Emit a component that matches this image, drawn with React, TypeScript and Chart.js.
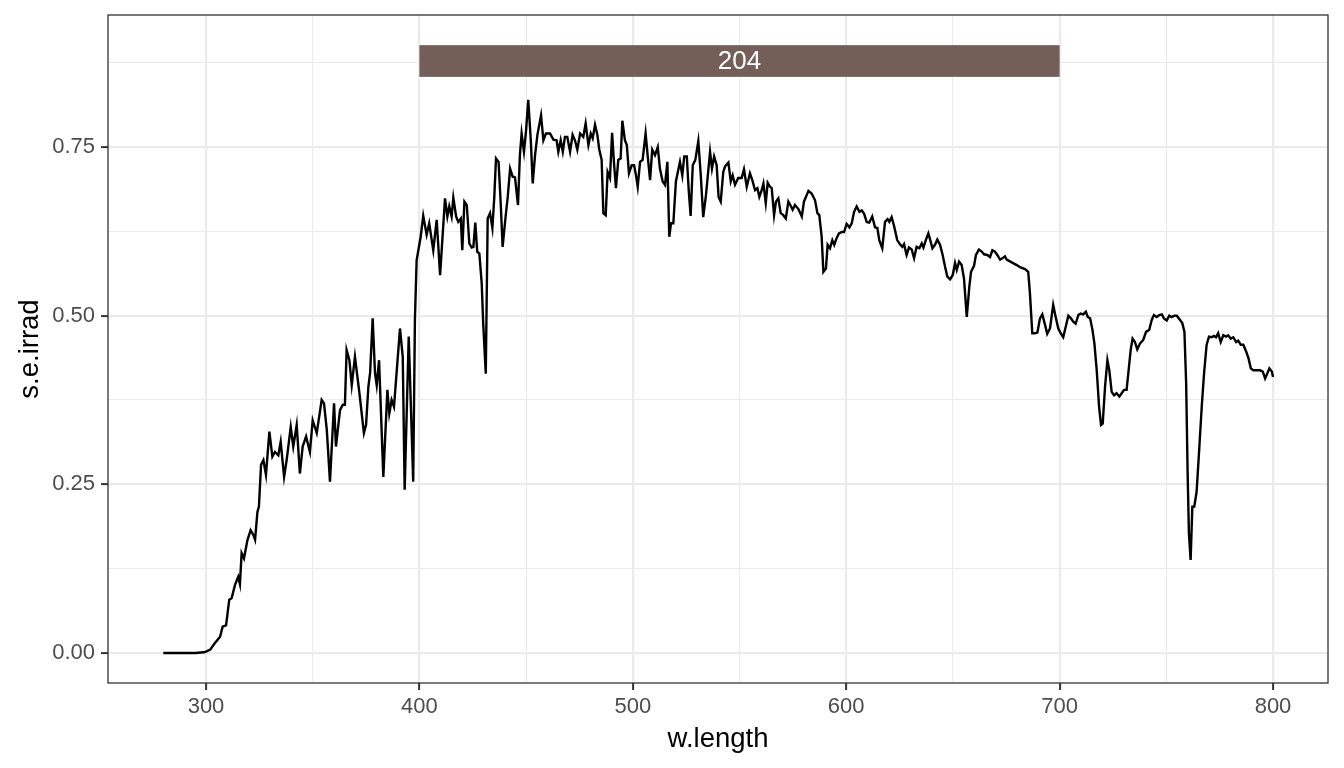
import React, { useEffect, useRef } from 'react';
import { Chart, registerables } from 'chart.js';

Chart.register(...registerables);

// wavelength (nm)
const wavelength = [
  280, 285, 290, 295, 299, 300, 302, 304, 306.6, 307.8, 309.4, 310.9, 312.0, 313.6, 315.1, 315.9,
  316.7, 317.8, 319.4, 320.9, 322.2, 323.0, 324.1, 324.8, 325.8, 326.9, 328.1, 329.7, 331.1, 332.3,
  333.9, 335.0, 336.6, 337.8, 339.7, 340.9, 342.5, 344.0, 345.3, 346.9, 348.7, 350.0, 351.9, 354.2,
  355.3, 356.6, 358.1, 360.0, 360.9, 362.8, 364.1, 365.1, 365.9, 367.2, 368.3, 369.8, 371.9, 374.0,
  375.0, 376.1, 376.9, 378.1, 379.2, 380.0, 381.1, 383.1, 385.0, 385.9, 387.0, 388.1, 389.4, 390.9,
  392.2, 393.1, 395.0, 397.1, 397.9, 398.7, 400.6, 401.8, 403.4, 404.6, 406.5, 408.1, 409.7, 412.0,
  413.1, 414.0, 415.1, 415.9, 417.2, 418.2, 419.4, 420.1, 421.1, 422.2, 423.4, 424.5, 425.3, 426.2,
  427.1, 428.1, 429.2, 429.9, 431.1, 432.0, 433.1, 434.2, 435.1, 435.9, 437.1, 438.1, 439.0, 440.4,
  441.4, 442.5, 443.7, 444.8, 446.2, 447.1, 447.9, 449.0, 450.0, 451.0, 452.2, 453.1, 454.2, 455.3,
  457.0, 458.1, 459.3, 461.2, 462.8, 464.3, 465.1, 466.2, 467.2, 468.2, 469.3, 470.6, 471.8, 472.9,
  474.0, 475.3, 476.8, 477.9, 479.2, 480.3, 481.2, 482.3, 483.4, 484.3, 485.4, 486.2, 487.3, 488.2,
  489.3, 490.3, 491.2, 492.1, 493.2, 494.3, 495.1, 496.3, 497.2, 498.2, 499.5, 500.6, 501.5, 502.3,
  503.4, 504.6, 506.0, 507.0, 508.1, 509.1, 510.4, 511.7, 512.7, 514.0, 515.1, 516.2, 517.1, 517.9,
  519.0, 520.2, 521.3, 522.1, 523.2, 524.1, 525.3, 526.2, 527.1, 528.1, 529.3, 530.7, 531.8, 533.0,
  534.3, 536.2, 537.1, 538.1, 539.3, 540.2, 541.2, 542.4, 543.2, 544.8, 545.9, 546.8, 547.9, 549.4,
  551.0, 552.1, 553.4, 554.9, 556.0, 557.3, 558.4, 559.3, 560.4, 561.2, 562.3, 563.2, 564.3, 565.1,
  566.2, 567.1, 568.2, 569.3, 570.5, 571.7, 572.9, 574.0, 574.9, 576.0, 577.6, 579.2, 580.2, 582.3,
  583.8, 585.4, 586.5, 587.4, 588.5, 589.3, 590.5, 591.3, 592.4, 593.5, 594.4, 595.5, 596.6, 597.9,
  599.0, 600.2, 601.5, 602.6, 603.7, 604.9, 606.2, 607.3, 608.4, 609.6, 610.8, 612.2, 613.5, 614.6,
  615.5, 616.9, 618.2, 619.4, 620.2, 621.3, 622.5, 623.9, 625.2, 626.3, 627.1, 628.3, 629.4, 630.7,
  631.8, 633.0, 634.3, 635.4, 636.2, 637.3, 638.5, 639.3, 640.4, 641.6, 642.7, 644.0, 645.2, 646.3,
  647.4, 648.7, 649.9, 651.0, 651.8, 652.9, 654.1, 655.2, 656.5, 657.7, 658.5, 659.9, 660.8, 662.2,
  663.5, 664.6, 666.1, 667.4, 668.5, 669.7, 670.8, 672.1, 673.2, 674.4, 675.2, 677.6, 679.9, 681.4,
  683.8, 685.3, 686.1, 687.2, 688.5, 689.6, 690.8, 691.9, 693.2, 694.2, 695.5, 697.0, 698.3, 699.4,
  700.5, 701.7, 702.9, 704.1, 705.3, 706.4, 707.5, 708.8, 709.9, 711.1, 712.3, 713.2, 714.3, 715.4,
  716.3, 717.4, 718.5, 719.4, 720.2, 721.3, 722.4, 723.3, 724.4, 725.5, 726.7, 728.0, 729.1, 730.2,
  731.4, 732.5, 733.3, 734.2, 735.3, 736.4, 737.7, 739.2, 740.5, 742.0, 743.2, 744.2, 745.5, 746.7,
  747.9, 748.9, 750.2, 751.4, 752.5, 753.8, 754.9, 756.1, 757.5, 758.5, 759.3, 760.0, 760.6, 761.4,
  762.2, 763.1, 764.2, 765.5, 766.6, 767.7, 768.9, 770.0, 771.3, 772.3, 773.3, 774.3, 775.5, 776.7,
  778.0, 779.0, 780.2, 781.4, 782.7, 783.7, 784.9, 786.1, 787.4, 788.5, 789.6, 790.8, 792.4, 793.9,
  795.2, 796.3, 797.4, 798.3, 799.5, 800.0,
];

// spectral energy irradiance
const irradiance = [
  0, 0, 0, 0, 0.001, 0.002, 0.005, 0.014, 0.024, 0.039, 0.041, 0.079, 0.081, 0.101, 0.113, 0.102,
  0.148, 0.140, 0.167, 0.182, 0.175, 0.168, 0.209, 0.217, 0.279, 0.286, 0.264, 0.328, 0.291, 0.298,
  0.293, 0.313, 0.261, 0.286, 0.335, 0.306, 0.338, 0.266, 0.306, 0.321, 0.298, 0.345, 0.326, 0.375,
  0.370, 0.331, 0.254, 0.370, 0.306, 0.360, 0.368, 0.368, 0.449, 0.434, 0.397, 0.439, 0.385, 0.326,
  0.338, 0.395, 0.415, 0.496, 0.415, 0.397, 0.434, 0.261, 0.390, 0.355, 0.375, 0.365, 0.419, 0.481,
  0.439, 0.242, 0.469, 0.254, 0.494, 0.582, 0.617, 0.648, 0.620, 0.637, 0.597, 0.642, 0.560, 0.674,
  0.647, 0.662, 0.647, 0.675, 0.647, 0.639, 0.644, 0.597, 0.669, 0.664, 0.607, 0.601, 0.602, 0.638,
  0.595, 0.592, 0.548, 0.489, 0.414, 0.644, 0.652, 0.630, 0.676, 0.733, 0.728, 0.667, 0.602, 0.647,
  0.676, 0.718, 0.706, 0.705, 0.664, 0.738, 0.770, 0.743, 0.775, 0.820, 0.760, 0.696, 0.738, 0.768,
  0.797, 0.760, 0.770, 0.770, 0.761, 0.760, 0.743, 0.760, 0.743, 0.765, 0.765, 0.743, 0.768, 0.760,
  0.746, 0.770, 0.765, 0.785, 0.753, 0.770, 0.763, 0.783, 0.768, 0.746, 0.731, 0.652, 0.649, 0.713,
  0.704, 0.771, 0.726, 0.689, 0.731, 0.733, 0.789, 0.760, 0.753, 0.711, 0.723, 0.723, 0.708, 0.691,
  0.728, 0.731, 0.770, 0.736, 0.701, 0.746, 0.738, 0.750, 0.718, 0.699, 0.694, 0.728, 0.617, 0.637,
  0.637, 0.699, 0.716, 0.728, 0.708, 0.736, 0.736, 0.686, 0.648, 0.723, 0.731, 0.759, 0.711, 0.646,
  0.679, 0.743, 0.718, 0.736, 0.723, 0.676, 0.669, 0.713, 0.721, 0.727, 0.699, 0.708, 0.694, 0.704,
  0.704, 0.717, 0.691, 0.711, 0.701, 0.686, 0.689, 0.676, 0.686, 0.696, 0.667, 0.697, 0.691, 0.689,
  0.649, 0.669, 0.674, 0.652, 0.649, 0.644, 0.669, 0.663, 0.657, 0.664, 0.658, 0.647, 0.669, 0.685,
  0.681, 0.671, 0.652, 0.649, 0.617, 0.565, 0.570, 0.605, 0.600, 0.612, 0.605, 0.615, 0.622, 0.624,
  0.624, 0.636, 0.631, 0.637, 0.654, 0.662, 0.654, 0.656, 0.651, 0.639, 0.638, 0.647, 0.631, 0.630,
  0.612, 0.600, 0.639, 0.643, 0.639, 0.646, 0.632, 0.612, 0.606, 0.602, 0.606, 0.590, 0.601, 0.598,
  0.585, 0.602, 0.600, 0.607, 0.601, 0.612, 0.622, 0.613, 0.600, 0.605, 0.613, 0.605, 0.590, 0.573,
  0.558, 0.554, 0.560, 0.578, 0.568, 0.580, 0.575, 0.555, 0.498, 0.543, 0.565, 0.574, 0.590, 0.598,
  0.595, 0.591, 0.590, 0.587, 0.597, 0.595, 0.590, 0.583, 0.585, 0.588, 0.583, 0.579, 0.575, 0.572,
  0.569, 0.565, 0.533, 0.474, 0.474, 0.475, 0.496, 0.502, 0.486, 0.473, 0.481, 0.516, 0.496, 0.481,
  0.474, 0.468, 0.484, 0.500, 0.496, 0.491, 0.488, 0.501, 0.503, 0.502, 0.506, 0.498, 0.496, 0.479,
  0.459, 0.419, 0.365, 0.338, 0.340, 0.395, 0.434, 0.419, 0.387, 0.382, 0.385, 0.380, 0.385, 0.390,
  0.390, 0.424, 0.449, 0.466, 0.461, 0.450, 0.459, 0.464, 0.476, 0.479, 0.494, 0.501, 0.498, 0.501,
  0.502, 0.496, 0.493, 0.500, 0.498, 0.500, 0.500, 0.495, 0.489, 0.476, 0.400, 0.266, 0.177, 0.138,
  0.217, 0.217, 0.239, 0.306, 0.365, 0.415, 0.457, 0.469, 0.468, 0.470, 0.468, 0.474, 0.461, 0.471,
  0.469, 0.471, 0.466, 0.468, 0.461, 0.463, 0.457, 0.457, 0.447, 0.437, 0.422, 0.419, 0.419, 0.419,
  0.417, 0.407, 0.415, 0.422, 0.417, 0.409,
];

const xTickValues = [300, 350, 400, 450, 500, 550, 600, 650, 700, 750, 800];
const xMajor = [300, 400, 500, 600, 700, 800];
const yTickValues = [0, 0.125, 0.25, 0.375, 0.5, 0.625, 0.75, 0.875];
const yMajor = [0, 0.25, 0.5, 0.75];

// waveband annotation
const bandRange = [400, 700];
const bandY = [0.854, 0.901];
const bandLabel = '204';

const xLimits = [254.08, 825.77];
const yLimits = [-0.0445, 0.9457];

const FONT = '"Liberation Sans", Arial, Helvetica, sans-serif';

const isMajor = (list: number[], v: number) => list.some((m) => Math.abs(m - v) < 1e-9);

const panelPlugin = {
  id: 'panelDecor',
  afterDatasetsDraw(chart: any) {
    const { ctx } = chart;
    const x = chart.scales.x;
    const y = chart.scales.y;
    const x0 = x.getPixelForValue(bandRange[0]);
    const x1 = x.getPixelForValue(bandRange[1]);
    const y0 = y.getPixelForValue(bandY[1]);
    const y1 = y.getPixelForValue(bandY[0]);
    ctx.save();
    ctx.fillStyle = '#735E58';
    ctx.fillRect(x0, y0, x1 - x0, y1 - y0);
    ctx.fillStyle = '#FFFFFF';
    ctx.font = `26px ${FONT}`;
    ctx.textAlign = 'center';
    ctx.textBaseline = 'middle';
    ctx.fillText(bandLabel, (x0 + x1) / 2, (y0 + y1) / 2 + 1);
    ctx.restore();
  },
  afterDraw(chart: any) {
    const { ctx, chartArea } = chart;
    ctx.save();
    ctx.strokeStyle = '#333333';
    ctx.lineWidth = 1.3;
    ctx.strokeRect(chartArea.left, chartArea.top, chartArea.right - chartArea.left, chartArea.bottom - chartArea.top);
    ctx.restore();
  },
};

export default function App() {
  const canvasRef = useRef<HTMLCanvasElement | null>(null);

  useEffect(() => {
    document.body.style.margin = '0';
    const canvas = canvasRef.current;
    if (!canvas) return;
    const points = wavelength.map((w, i) => ({ x: w, y: irradiance[i] }));
    const chart = new Chart(canvas, {
      type: 'line',
      data: {
        datasets: [
          {
            data: points,
            borderColor: '#000000',
            borderWidth: 2.4,
            pointRadius: 0,
            tension: 0,
            fill: false,
          },
        ],
      },
      options: {
        animation: false,
        responsive: true,
        maintainAspectRatio: false,
        layout: { padding: { left: 0, right: 16, top: 15, bottom: 0 } },
        plugins: {
          legend: { display: false },
          tooltip: { enabled: false },
        },
        scales: {
          x: {
            type: 'linear',
            min: xLimits[0],
            max: xLimits[1],
            afterBuildTicks: (scale: any) => {
              scale.ticks = xTickValues.map((v) => ({ value: v }));
            },
            afterFit: (scale: any) => {
              scale.height = 85;
              scale.paddingLeft = 0;
              scale.paddingRight = 0;
            },
            border: { display: false },
            grid: {
              color: '#EBEBEB',
              lineWidth: (c: any) => (c.tick && isMajor(xMajor, c.tick.value) ? 2.2 : 1.1),
              tickColor: (c: any) => (c.tick && isMajor(xMajor, c.tick.value) ? '#333333' : 'rgba(0,0,0,0)'),
              tickWidth: 2,
              tickLength: 7,
              drawTicks: true,
            },
            ticks: {
              autoSkip: false,
              maxRotation: 0,
              padding: 4,
              color: '#4D4D4D',
              font: { family: FONT, size: 22 },
              callback: (v: any) => (isMajor(xMajor, Number(v)) ? String(Math.round(Number(v))) : ''),
            },
            title: {
              display: true,
              text: 'w.length',
              color: '#000000',
              font: { family: FONT, size: 27.5 },
              padding: { top: 0, bottom: 12 },
            },
          },
          y: {
            type: 'linear',
            min: yLimits[0],
            max: yLimits[1],
            afterBuildTicks: (scale: any) => {
              scale.ticks = yTickValues.map((v) => ({ value: v }));
            },
            afterFit: (scale: any) => {
              scale.width = 108;
              scale.paddingTop = 0;
              scale.paddingBottom = 0;
            },
            border: { display: false },
            grid: {
              color: '#EBEBEB',
              lineWidth: (c: any) => (c.tick && isMajor(yMajor, c.tick.value) ? 2.2 : 1.1),
              tickColor: (c: any) => (c.tick && isMajor(yMajor, c.tick.value) ? '#333333' : 'rgba(0,0,0,0)'),
              tickWidth: 2,
              tickLength: 7,
              drawTicks: true,
            },
            ticks: {
              autoSkip: false,
              padding: 6,
              color: '#4D4D4D',
              font: { family: FONT, size: 22 },
              callback: (v: any) => (isMajor(yMajor, Number(v)) ? Number(v).toFixed(2) : ''),
            },
            title: {
              display: true,
              text: 's.e.irrad',
              color: '#000000',
              font: { family: FONT, size: 27.5 },
              padding: { top: 14, bottom: 0 },
            },
          },
        },
      },
      plugins: [panelPlugin],
    });
    return () => chart.destroy();
  }, []);

  return (
    <div style={{ position: 'fixed', left: 0, top: 0, width: 1344, height: 768, background: '#ffffff' }}>
      <canvas ref={canvasRef} />
    </div>
  );
}
